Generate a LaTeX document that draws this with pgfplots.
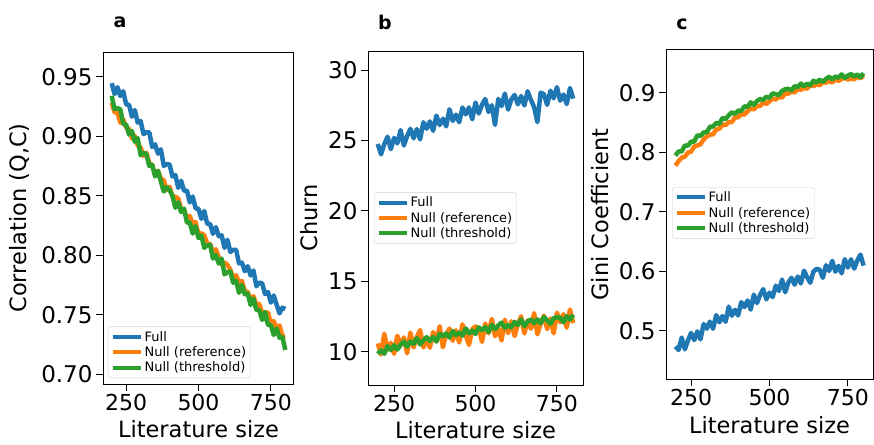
\documentclass[border=0pt]{standalone}
\usepackage{pgfplots}
\pgfplotsset{compat=1.18}
\usepackage{fontspec}
\setmainfont{DejaVu Sans}

\definecolor{cFull}{HTML}{1F77B4}
\definecolor{cRef}{HTML}{FF7F0E}
\definecolor{cThr}{HTML}{2CA02C}

\begin{document}
\begin{tikzpicture}
\pgfplotsset{
  every axis/.append style={
    scale only axis,
    xmin=170, xmax=830, xtick={250,500,750},
    tick pos=left, tick align=outside, major tick length=7pt,
    tick style={black, line width=1pt},
    axis line style={black, line width=1pt},
    /pgf/number format/assume math mode=true,
    xticklabel style={font=\fontsize{22}{24}\selectfont},
    yticklabel style={font=\fontsize{23}{26}\selectfont},
    label style={font=\fontsize{22.5}{26}\selectfont},
    xlabel={Literature size},
    legend cell align=left,
    legend image code/.code={\draw[#1, line width=4pt] (0pt,0pt) -- (28pt,0pt);},
    legend style={draw=black!18, rounded corners=3pt, fill=white,
                  fill opacity=0.8, text opacity=1,
                  font=\fontsize{13}{16}\selectfont, inner sep=2.5pt},
    every axis plot/.append style={line width=4.5pt, line join=round},
  },
}

% ============ Panel a: correlation ============
\begin{axis}[
    at={(103pt,-384pt)}, anchor=south west, width=191pt, height=332pt,
    ymin=0.692, ymax=0.971,
    ytick={0.70,0.75,0.80,0.85,0.90,0.95},
    yticklabel style={/pgf/number format/.cd, fixed, fixed zerofill, precision=2},
    ylabel={Correlation (Q,C)},
    ylabel style={at={(rel axis cs:-0.435,0.5)}, anchor=center},
    xlabel style={at={(rel axis cs:0.5,-0.136)}, anchor=center},
    legend style={at={(0.026,0.018)}, anchor=south west},
]
\addplot[cFull] coordinates {
 (200,0.9448)(210,0.9356)(220,0.9414)(230,0.9340)(240,0.9380)(250,0.9270)
 (260,0.9266)(270,0.9166)(280,0.9222)(290,0.9116)(300,0.9130)(310,0.9020)
 (320,0.9036)(330,0.9034)(340,0.8912)(350,0.8934)(360,0.8856)(370,0.8892)
 (380,0.8754)(390,0.8766)(400,0.8766)(410,0.8664)(420,0.8676)(430,0.8568)
 (440,0.8628)(450,0.8544)(460,0.8546)(470,0.8446)(480,0.8496)(490,0.8396)
 (500,0.8392)(510,0.8308)(520,0.8374)(530,0.8266)(540,0.8266)(550,0.8182)
 (560,0.8238)(570,0.8162)(580,0.8170)(590,0.8064)(600,0.8132)(610,0.8030)
 (620,0.8048)(630,0.8048)(640,0.7934)(650,0.7940)(660,0.7868)(670,0.7910)
 (680,0.7832)(690,0.7874)(700,0.7742)(710,0.7772)(720,0.7766)(730,0.7676)
 (740,0.7694)(750,0.7604)(760,0.7664)(770,0.7586)(780,0.7514)(790,0.7562)
 (800,0.7550)};
\addlegendentry{Full}
\addplot[cRef] coordinates {
 (200,0.9284)(210,0.9204)(220,0.9200)(230,0.9116)(240,0.9144)(250,0.9076)
 (260,0.9064)(270,0.8984)(280,0.9004)(290,0.8924)(300,0.8908)(310,0.8836)
 (320,0.8864)(330,0.8776)(340,0.8760)(350,0.8688)(360,0.8710)(370,0.8644)
 (380,0.8634)(390,0.8548)(400,0.8578)(410,0.8496)(420,0.8494)(430,0.8480)
 (440,0.8390)(450,0.8380)(460,0.8318)(470,0.8332)(480,0.8266)(490,0.8280)
 (500,0.8178)(510,0.8186)(520,0.8170)(530,0.8098)(540,0.8098)(550,0.8026)
 (560,0.8052)(570,0.7986)(580,0.7924)(590,0.7942)(600,0.7920)(610,0.7882)
 (620,0.7808)(630,0.7834)(640,0.7772)(650,0.7786)(660,0.7700)(670,0.7694)
 (680,0.7624)(690,0.7658)(700,0.7584)(710,0.7592)(720,0.7516)(730,0.7524)
 (740,0.7520)(750,0.7436)(760,0.7448)(770,0.7392)(780,0.7412)(790,0.7316)
 (800,0.7320)};
\addlegendentry{Null (reference)}
\addplot[cThr] coordinates {
 (200,0.9342)(210,0.9230)(220,0.9238)(230,0.9228)(240,0.9104)(250,0.9100)
 (260,0.9016)(270,0.9046)(280,0.8956)(290,0.8986)(300,0.8842)(310,0.8864)
 (320,0.8850)(330,0.8752)(340,0.8762)(350,0.8664)(360,0.8712)(370,0.8622)
 (380,0.8538)(390,0.8574)(400,0.8550)(410,0.8502)(420,0.8400)(430,0.8448)
 (440,0.8364)(450,0.8394)(460,0.8276)(470,0.8278)(480,0.8184)(490,0.8246)
 (500,0.8146)(510,0.8168)(520,0.8064)(530,0.8086)(540,0.8090)(550,0.7974)
 (560,0.8004)(570,0.7932)(580,0.7974)(590,0.7842)(600,0.7860)(610,0.7866)
 (620,0.7770)(630,0.7788)(640,0.7686)(650,0.7752)(660,0.7674)(670,0.7680)
 (680,0.7584)(690,0.7638)(700,0.7542)(710,0.7542)(720,0.7458)(730,0.7524)
 (740,0.7416)(750,0.7416)(760,0.7332)(770,0.7386)(780,0.7308)(790,0.7314)
 (800,0.7206)};
\addlegendentry{Null (threshold)}
\end{axis}

% ============ Panel b: churn ============
\begin{axis}[
    at={(368pt,-385pt)}, anchor=south west, width=215pt, height=334pt,
    ymin=7.63, ymax=31.35,
    ytick={10,15,20,25,30},
    ylabel={Churn},
    ylabel style={at={(rel axis cs:-0.273,0.5)}, anchor=center},
    xlabel style={at={(rel axis cs:0.5,-0.134)}, anchor=center},
    legend style={at={(0.028,0.5)}, anchor=west},
]
\addplot[cFull] coordinates {
 (200,24.75)(210,24.01)(220,24.74)(230,25.26)(240,24.38)(250,25.18)
 (260,24.79)(270,25.73)(280,24.64)(290,25.30)(300,25.82)(310,25.15)
 (320,25.81)(330,25.07)(340,26.29)(350,25.83)(360,26.35)(370,25.68)
 (380,26.76)(390,26.09)(400,26.54)(410,26.00)(420,27.21)(430,26.39)
 (440,26.83)(450,26.29)(460,27.34)(470,26.85)(480,27.34)(490,26.50)
 (500,27.69)(510,26.91)(520,27.53)(530,27.94)(540,27.02)(550,27.50)
 (560,26.10)(570,27.95)(580,27.44)(590,28.33)(600,27.19)(610,27.92)
 (620,28.23)(630,27.56)(640,28.15)(650,27.48)(660,28.49)(670,27.89)
 (680,27.36)(690,26.30)(700,28.40)(710,28.28)(720,27.53)(730,28.53)
 (740,27.99)(750,28.78)(760,27.82)(770,28.26)(780,27.58)(790,28.72)
 (800,27.97)};
\addlegendentry{Full}
\addplot[cRef] coordinates {
 (200,10.58)(210,9.80)(220,11.27)(230,10.14)(240,10.62)(250,9.84)
 (260,11.13)(270,10.44)(280,11.01)(290,9.88)(300,11.35)(310,10.30)
 (320,11.05)(330,11.53)(340,10.30)(350,10.88)(360,10.28)(370,11.39)
 (380,10.70)(390,11.81)(400,10.31)(410,11.25)(420,11.64)(430,10.77)
 (440,11.52)(450,10.65)(460,11.94)(470,11.17)(480,10.48)(490,11.59)
 (500,11.80)(510,11.65)(520,10.69)(530,11.99)(540,11.30)(550,12.32)
 (560,11.09)(570,11.66)(580,10.79)(590,12.27)(600,11.31)(610,12.15)
 (620,11.10)(630,11.94)(640,12.51)(650,11.29)(660,12.22)(670,11.62)
 (680,12.73)(690,11.23)(700,11.99)(710,12.56)(720,11.60)(730,12.35)
 (740,11.30)(750,12.77)(760,12.09)(770,12.66)(780,11.70)(790,12.99)
 (800,12.03)};
\addlegendentry{Null (reference)}
\addplot[cThr] coordinates {
 (200,9.85)(210,10.09)(220,9.85)(230,10.39)(240,10.12)(250,10.45)
 (260,10.15)(270,10.48)(280,10.72)(290,10.36)(300,10.72)(310,10.56)
 (320,10.97)(330,10.51)(340,10.80)(350,11.03)(360,10.75)(370,11.04)
 (380,10.73)(390,11.26)(400,11.07)(410,11.29)(420,11.00)(430,11.46)
 (440,11.17)(450,11.36)(460,11.13)(470,11.65)(480,11.30)(490,11.49)
 (500,11.26)(510,11.72)(520,11.52)(530,11.74)(540,11.39)(550,11.91)
 (560,11.59)(570,11.87)(580,12.06)(590,11.68)(600,11.90)(610,11.72)
 (620,12.11)(630,11.90)(640,12.29)(650,11.81)(660,12.14)(670,12.29)
 (680,12.02)(690,12.29)(700,12.02)(710,12.46)(720,12.21)(730,11.99)
 (740,12.37)(750,12.45)(760,12.40)(770,12.08)(780,12.51)(790,12.28)
 (800,12.62)};
\addlegendentry{Null (threshold)}
\end{axis}

% ============ Panel c: Gini coefficient ============
\begin{axis}[
    at={(666pt,-379pt)}, anchor=south west, width=207pt, height=329pt,
    ymin=0.419, ymax=0.972,
    ytick={0.5,0.6,0.7,0.8,0.9},
    yticklabel style={/pgf/number format/.cd, fixed, fixed zerofill, precision=1},
    ylabel={Gini Coefficient},
    ylabel style={at={(rel axis cs:-0.319,0.5)}, anchor=center},
    xlabel style={at={(rel axis cs:0.5,-0.140)}, anchor=center},
    legend style={at={(0.029,0.505)}, anchor=west},
]
\addplot[cFull] coordinates {
 (200,0.4736)(210,0.4678)(220,0.4886)(230,0.4688)(240,0.4840)(250,0.4964)
 (260,0.4844)(270,0.4990)(280,0.4856)(290,0.5114)(300,0.5036)(310,0.5154)
 (320,0.5034)(330,0.5264)(340,0.5144)(350,0.5248)(360,0.5152)(370,0.5406)
 (380,0.5254)(390,0.5354)(400,0.5258)(410,0.5482)(420,0.5398)(430,0.5510)
 (440,0.5356)(450,0.5608)(460,0.5466)(470,0.5604)(480,0.5700)(490,0.5530)
 (500,0.5640)(510,0.5566)(520,0.5758)(530,0.5670)(540,0.5862)(550,0.5648)
 (560,0.5812)(570,0.5892)(580,0.5776)(590,0.5912)(600,0.5796)(610,0.6010)
 (620,0.5902)(630,0.5808)(640,0.5994)(650,0.6040)(660,0.6028)(670,0.5890)
 (680,0.6102)(690,0.6006)(700,0.6176)(710,0.5994)(720,0.6092)(730,0.5966)
 (740,0.6204)(750,0.6064)(760,0.6202)(770,0.6046)(780,0.6184)(790,0.6280)
 (800,0.6096)};
\addlegendentry{Full}
\addplot[cRef] coordinates {
 (200,0.7776)(210,0.7852)(220,0.7910)(230,0.7926)(240,0.7996)(250,0.8012)
 (260,0.8098)(270,0.8115)(280,0.8135)(290,0.8215)(300,0.8265)(310,0.8297)
 (320,0.8302)(330,0.8382)(340,0.8396)(350,0.8467)(360,0.8457)(370,0.8507)
 (380,0.8509)(390,0.8589)(400,0.8588)(410,0.8643)(420,0.8635)(430,0.8690)
 (440,0.8736)(450,0.8722)(460,0.8776)(470,0.8779)(480,0.8839)(490,0.8812)
 (500,0.8860)(510,0.8900)(520,0.8889)(530,0.8935)(540,0.8921)(550,0.8991)
 (560,0.8985)(570,0.9021)(580,0.9006)(590,0.9066)(600,0.9051)(610,0.9082)
 (620,0.9071)(630,0.9135)(640,0.9112)(650,0.9143)(660,0.9128)(670,0.9182)
 (680,0.9170)(690,0.9200)(700,0.9173)(710,0.9229)(720,0.9201)(730,0.9233)
 (740,0.9256)(750,0.9222)(760,0.9244)(770,0.9227)(780,0.9267)(790,0.9247)
 (800,0.9287)};
\addlegendentry{Null (reference)}
\addplot[cThr] coordinates {
 (200,0.7946)(210,0.8014)(220,0.8014)(230,0.8114)(240,0.8114)(250,0.8178)
 (260,0.8182)(270,0.8286)(280,0.8274)(290,0.8334)(300,0.8338)(310,0.8430)
 (320,0.8434)(330,0.8494)(340,0.8478)(350,0.8578)(360,0.8560)(370,0.8622)
 (380,0.8672)(390,0.8646)(400,0.8700)(410,0.8698)(420,0.8772)(430,0.8766)
 (440,0.8840)(450,0.8798)(460,0.8860)(470,0.8898)(480,0.8880)(490,0.8934)
 (500,0.8916)(510,0.8992)(520,0.8976)(530,0.8964)(540,0.9032)(550,0.9060)
 (560,0.9068)(570,0.9040)(580,0.9112)(590,0.9096)(600,0.9156)(610,0.9114)
 (620,0.9152)(630,0.9126)(640,0.9204)(650,0.9174)(660,0.9222)(670,0.9186)
 (680,0.9234)(690,0.9270)(700,0.9226)(710,0.9274)(720,0.9254)(730,0.9310)
 (740,0.9250)(750,0.9290)(760,0.9316)(770,0.9274)(780,0.9308)(790,0.9262)
 (800,0.9328)};
\addlegendentry{Null (threshold)}
\end{axis}

% panel letters
\node[font=\bfseries\fontsize{19}{22}\selectfont] at (120pt,-22pt) {a};
\node[font=\bfseries\fontsize{19}{22}\selectfont] at (385pt,-22pt) {b};
\node[font=\bfseries\fontsize{19}{22}\selectfont] at (682pt,-24pt) {c};

\pgfresetboundingbox
\path[use as bounding box] (0pt,0pt) rectangle (874pt,-444pt);
\end{tikzpicture}
\end{document}
